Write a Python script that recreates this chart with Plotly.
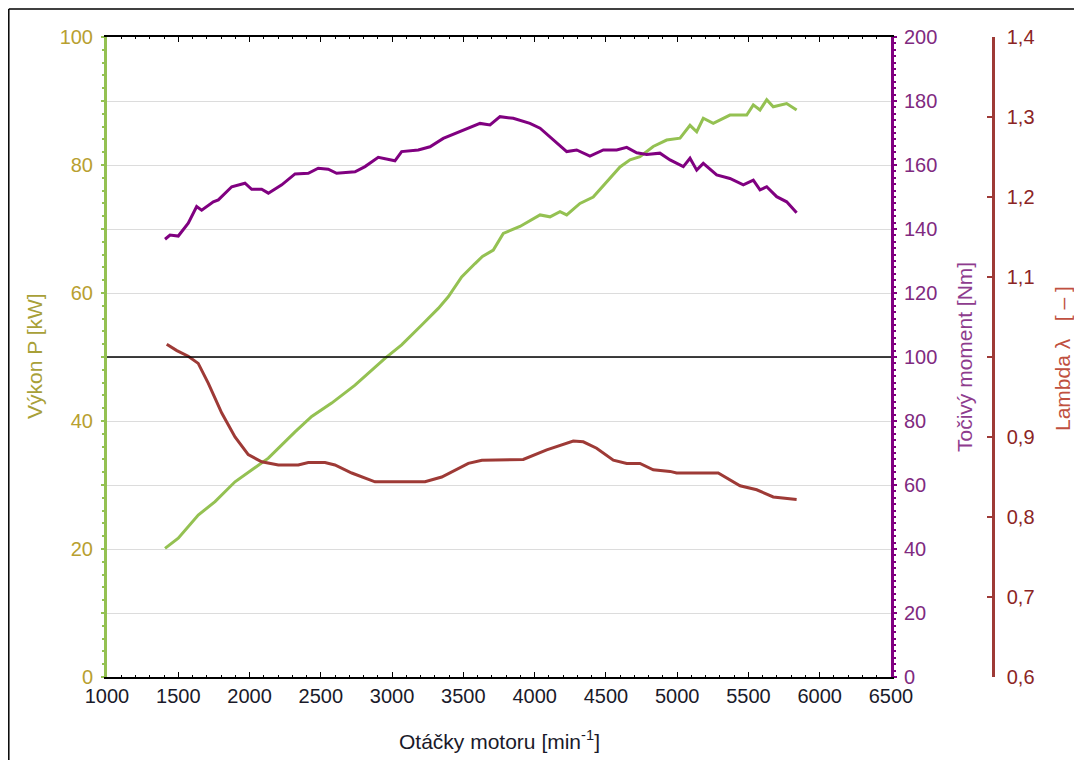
import plotly.graph_objects as go

# ---- data ----
rpm_power = [1407, 1500, 1640, 1758, 1898, 2015, 2132, 2319, 2436, 2576, 2740, 2950, 3067, 3208, 3324,
             3394, 3488, 3582, 3634, 3710, 3780, 3897, 4038, 4108, 4178, 4225, 4318, 4411, 4505, 4599,
             4669, 4739, 4832, 4926, 5020, 5090, 5137, 5183, 5253, 5370, 5488, 5534, 5581, 5628, 5674,
             5768, 5838]
power_kw = [20.1, 21.7, 25.3, 27.4, 30.5, 32.3, 34.2, 38.3, 40.7, 42.8, 45.6, 49.8, 51.9, 55.0, 57.6,
            59.4, 62.5, 64.6, 65.7, 66.7, 69.3, 70.4, 72.2, 71.9, 72.7, 72.2, 74.0, 75.0, 77.4, 79.7,
            80.8, 81.3, 82.9, 83.9, 84.2, 86.2, 85.2, 87.3, 86.5, 87.8, 87.8, 89.4, 88.6, 90.2, 89.1,
            89.6, 88.6]

rpm_torque = [1407, 1442, 1500, 1570, 1629, 1664, 1746, 1781, 1875, 1968, 2015, 2085, 2132, 2226, 2319,
              2412, 2482, 2552, 2611, 2740, 2810, 2903, 3020, 3067, 3184, 3266, 3359, 3476, 3617, 3687,
              3757, 3850, 3967, 4038, 4131, 4225, 4295, 4388, 4482, 4576, 4646, 4716, 4786, 4879, 4950,
              5043, 5090, 5137, 5183, 5277, 5370, 5464, 5534, 5581, 5628, 5698, 5768, 5838]
torque_nm = [136.8, 138.1, 137.8, 141.8, 147.0, 145.9, 148.5, 149.1, 153.2, 154.3, 152.4, 152.4, 151.2, 153.8, 157.2,
             157.4, 159.0, 158.7, 157.4, 157.9, 159.5, 162.4, 161.3, 164.2, 164.7, 165.7, 168.3, 170.4, 173.0, 172.5,
             175.1, 174.6, 173.0, 171.5, 167.8, 164.2, 164.7, 162.8, 164.7, 164.7, 165.5, 163.8, 163.3, 163.7, 161.6,
             159.5, 162.1, 158.4, 160.5, 156.9, 155.8, 153.8, 155.3, 152.2, 153.2, 150.1, 148.5, 145.1]

rpm_lambda = [1419, 1490, 1570, 1640, 1711, 1805, 1898, 1991, 2085, 2202, 2342, 2412, 2529, 2599, 2717,
              2880, 3231, 3348, 3535, 3630, 3920, 4085, 4271, 4341, 4435, 4552, 4646, 4739, 4832, 4950,
              4996, 5288, 5441, 5558, 5674, 5838]
lambda_val = [1.016, 1.008, 1.001, 0.992, 0.967, 0.930, 0.900, 0.878, 0.869, 0.865, 0.865, 0.868, 0.868, 0.865, 0.855,
              0.844, 0.844, 0.850, 0.867, 0.871, 0.872, 0.884, 0.895, 0.894, 0.886, 0.871, 0.867, 0.867, 0.859, 0.857,
              0.855, 0.855, 0.839, 0.834, 0.825, 0.822]

x_ticks = [1000, 1500, 2000, 2500, 3000, 3500, 4000, 4500, 5000, 5500, 6000, 6500]
power_ticks = [0, 10, 20, 30, 40, 50, 60, 70, 80, 90, 100]
power_ticktext = ["0", "", "20", "", "40", "", "60", "", "80", "", "100"]
torque_ticks = [0, 20, 40, 60, 80, 100, 120, 140, 160, 180, 200]
lambda_ticks = [0.6, 0.7, 0.8, 0.9, 1.0, 1.1, 1.2, 1.3, 1.4]
lambda_ticktext = ["0,6", "0,7", "0,8", "0,9", "", "1,1", "1,2", "1,3", "1,4"]

FONT = "Liberation Sans, Arial, sans-serif"
GREEN = "#94C152"
PURPLE = "#800080"
RED = "#9E3A36"

# page body margin offset (browser default): figure starts 8 px in from the top-left
OFF = 8
W, H = 1082 - OFF, 760 - OFF
ML, MT = 107 - OFF, 37 - OFF
MB = H - (677 - OFF)
MR = 10
plot_w = W - ML - MR
ph = H - MT - MB


def sx(px):
    return (px - OFF - ML) / plot_w


def sy(py):
    return (H - MB - (py - OFF)) / ph


xdom_end = sx(891)
lam_pos = sx(993)

fig = go.Figure()
fig.add_trace(go.Scatter(x=rpm_power, y=power_kw, mode="lines", yaxis="y",
                         line=dict(color=GREEN, width=3), showlegend=False))
fig.add_trace(go.Scatter(x=rpm_torque, y=torque_nm, mode="lines", yaxis="y2",
                         line=dict(color=PURPLE, width=3), showlegend=False))
fig.add_trace(go.Scatter(x=rpm_lambda, y=lambda_val, mode="lines", yaxis="y3",
                         line=dict(color=RED, width=3), showlegend=False))

fig.update_layout(
    width=W, height=H, autosize=False, showlegend=False,
    margin=dict(l=ML, r=MR, t=MT, b=MB, pad=0, autoexpand=False),
    paper_bgcolor="white", plot_bgcolor="white",
    font=dict(family=FONT, size=20),
    xaxis=dict(domain=[0, xdom_end], range=[1000, 6500], tickvals=x_ticks, automargin=False,
               ticks="inside", ticklen=5, tickcolor="black", tickwidth=1,
               minor=dict(dtick=100, tick0=1000, ticks="inside", ticklen=2, tickcolor="black"),
               showline=True, linecolor="black", linewidth=1.5, mirror="ticks",
               showgrid=False, zeroline=False,
               tickfont=dict(size=20, color="#1a1a2a")),
    yaxis=dict(range=[0, 100], tickvals=power_ticks, ticktext=power_ticktext, automargin=False,
               showgrid=True, gridcolor="#dcdcdc", gridwidth=1,
               showline=True, linecolor=GREEN, linewidth=3,
               ticks="outside", ticklen=3, tickcolor=GREEN, tickwidth=2,
               minor=dict(dtick=2, ticks="outside", ticklen=2, tickcolor=GREEN, showgrid=False),
               ticklabelstandoff=4,
               zeroline=False, tickfont=dict(size=20, color="#B8A030")),
    yaxis2=dict(range=[0, 200], tickvals=torque_ticks, overlaying="y", side="right", anchor="x",
                automargin=False,
                showgrid=False, showline=True, linecolor=PURPLE, linewidth=3,
                ticks="outside", ticklen=3, tickcolor=PURPLE, tickwidth=2,
                minor=dict(dtick=2, ticks="outside", ticklen=2, tickcolor=PURPLE, showgrid=False),
                ticklabelstandoff=3,
                zeroline=False, tickfont=dict(size=20, color="#802A80")),
    yaxis3=dict(range=[0.6, 1.4], tickvals=lambda_ticks, ticktext=lambda_ticktext,
                overlaying="y", side="right", anchor="free", position=lam_pos, automargin=False,
                showgrid=False, showline=True, linecolor=RED, linewidth=2.5,
                ticks="inside", ticklen=5, tickcolor=RED, tickwidth=2,
                ticklabelstandoff=8,
                zeroline=False, tickfont=dict(size=20, color="#8B2424")),
)

# lambda = 1 reference line
fig.add_shape(type="line", xref="x domain", x0=0, x1=1, yref="y3", y0=1.0, y1=1.0,
              line=dict(color="black", width=1.5))

# outer frame (top and left edges visible in the reference)
fig.add_shape(type="line", xref="paper", yref="paper", x0=sx(8.8), x1=sx(1200), y0=sy(9), y1=sy(9),
              line=dict(color="black", width=1.5), layer="above")
fig.add_shape(type="line", xref="paper", yref="paper", x0=sx(8.8), x1=sx(8.8), y0=sy(9), y1=sy(900),
              line=dict(color="black", width=1.5), layer="above")

common = dict(xref="paper", yref="paper", showarrow=False, xanchor="center", yanchor="middle")
fig.add_annotation(text="Otáčky motoru [min<sup>-1</sup>]", x=sx(499), y=sy(740),
                   font=dict(size=21, color="#1a1a2a", family=FONT), **common)
fig.add_annotation(text="Výkon P [kW]", textangle=-90, x=sx(34), y=sy(356),
                   font=dict(size=21, color="#A8A038", family=FONT), **common)
fig.add_annotation(text="Točivý moment [Nm]", textangle=-90, x=sx(964), y=sy(357),
                   font=dict(size=21, color="#8E3C8E", family=FONT), **common)
fig.add_annotation(text="Lambda λ   [ – ]", textangle=-90, x=sx(1062), y=sy(359),
                   font=dict(size=21, color="#C05040", family=FONT), **common)

fig.write_html("out.html")
